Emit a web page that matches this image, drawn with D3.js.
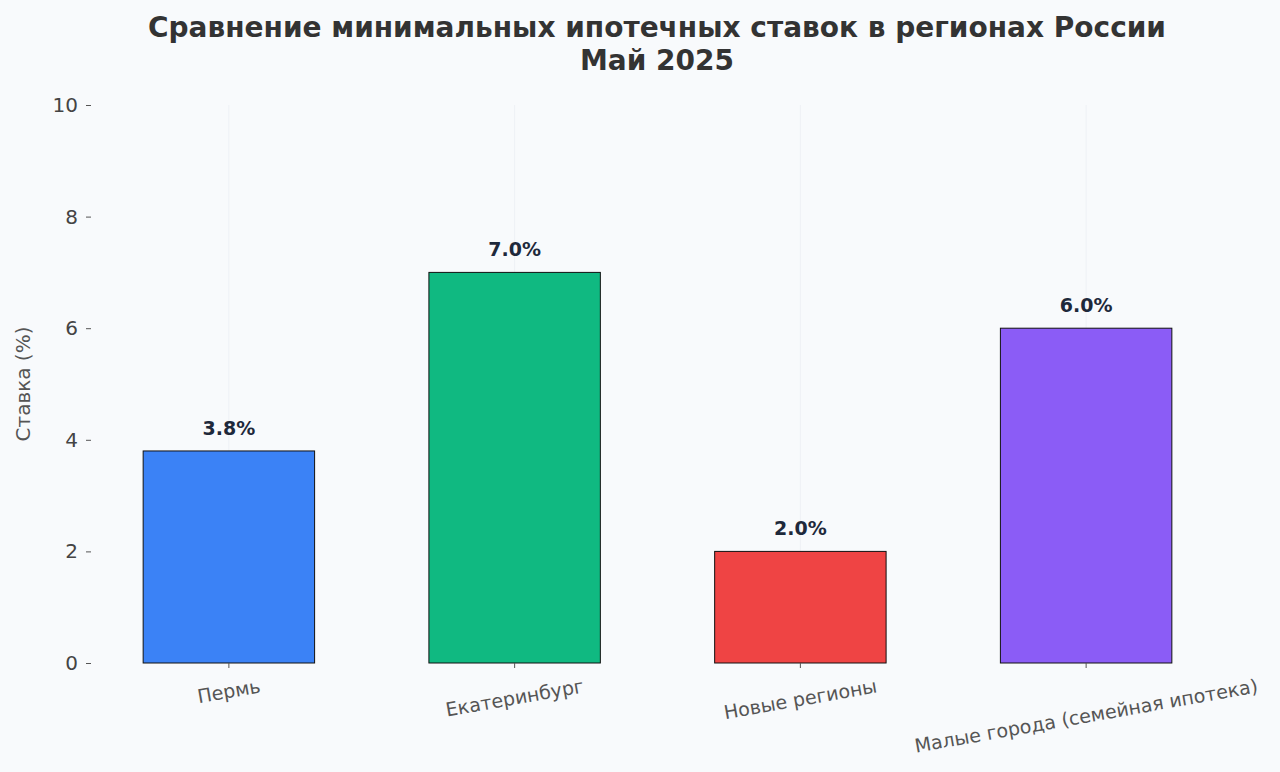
<!DOCTYPE html>
<html><head><meta charset="utf-8">
<script src="https://cdn.jsdelivr.net/npm/d3@7"></script>
<style>body{margin:0;background:#f8fafc;font-family:"DejaVu Sans",sans-serif;}</style>
</head><body><div id="chart"></div>
<script>
const categories = ["Пермь", "Екатеринбург", "Новые регионы", "Малые города (семейная ипотека)"];
const rates = [3.8, 7.0, 2.0, 6.0];
const colors = ["#3b82f6", "#10b981", "#ef4444", "#8b5cf6"];
const yTicks = [0, 2, 4, 6, 8, 10];

const W = 1280, H = 772;
const svg = d3.select("#chart").append("svg").attr("width", W).attr("height", H);
svg.append("rect").attr("width", W).attr("height", H).attr("fill", "#f8fafc");

const x = d3.scaleBand().domain(categories).range([86, 1229]).paddingInner(0.4).paddingOuter(0.2);
const y = d3.scaleLinear().domain([0, 10]).range([663, 105]);

// faint grid
svg.append("g").selectAll("line").data(categories).join("line")
  .attr("x1", d => x(d) + x.bandwidth() / 2).attr("x2", d => x(d) + x.bandwidth() / 2)
  .attr("y1", 105).attr("y2", 663).attr("stroke", "#eef1f5").attr("stroke-width", 1);

svg.append("text").attr("x", 657).attr("y", 37).attr("text-anchor", "middle")
  .attr("font-size", 28).attr("font-weight", "bold").attr("fill", "#333").text("Сравнение минимальных ипотечных ставок в регионах России");
svg.append("text").attr("x", 657).attr("y", 70).attr("text-anchor", "middle")
  .attr("font-size", 28).attr("font-weight", "bold").attr("fill", "#333").text("Май 2025");

const yAxis = svg.append("g").attr("transform", "translate(91,0)")
  .call(d3.axisLeft(y).tickValues(yTicks).tickSize(5).tickPadding(8));
yAxis.select(".domain").remove();
yAxis.selectAll("line").attr("stroke", "#555");
yAxis.selectAll("text").attr("font-size", 20).attr("fill", "#444").attr("font-family", "DejaVu Sans");

svg.append("text").attr("transform", "translate(30,384) rotate(-90)").attr("text-anchor", "middle")
  .attr("font-size", 20).attr("fill", "#555").text("Ставка (%)");

svg.append("g").selectAll("rect").data(categories).join("rect")
  .attr("x", d => x(d)).attr("width", x.bandwidth())
  .attr("y", (d, i) => y(rates[i])).attr("height", (d, i) => y(0) - y(rates[i]))
  .attr("fill", (d, i) => colors[i]).attr("stroke", "#111").attr("stroke-width", 1);

svg.append("g").selectAll("text").data(categories).join("text")
  .attr("x", d => x(d) + x.bandwidth() / 2).attr("y", (d, i) => y(rates[i]) - 16)
  .attr("text-anchor", "middle").attr("font-size", 19).attr("font-weight", "bold").attr("fill", "#1e293b")
  .text((d, i) => rates[i].toFixed(1) + "%");

// x ticks
svg.append("g").selectAll("line").data(categories).join("line")
  .attr("x1", d => x(d) + x.bandwidth() / 2).attr("x2", d => x(d) + x.bandwidth() / 2)
  .attr("y1", 663).attr("y2", 668).attr("stroke", "#555");

const ang = 10 * Math.PI / 180;
svg.append("g").selectAll("text").data(categories).join("text")
  .attr("font-size", 19).attr("fill", "#555").attr("text-anchor", "middle").attr("dominant-baseline", "central")
  .text(d => d)
  .each(function (d) {
    const w = this.getComputedTextLength(), h = 19;
    const bh = w * Math.sin(ang) + h * Math.cos(ang);
    const cx = x(d) + x.bandwidth() / 2, cy = 676 + bh / 2;
    d3.select(this).attr("transform", `translate(${cx},${cy}) rotate(-10)`);
  });
</script></body></html>
